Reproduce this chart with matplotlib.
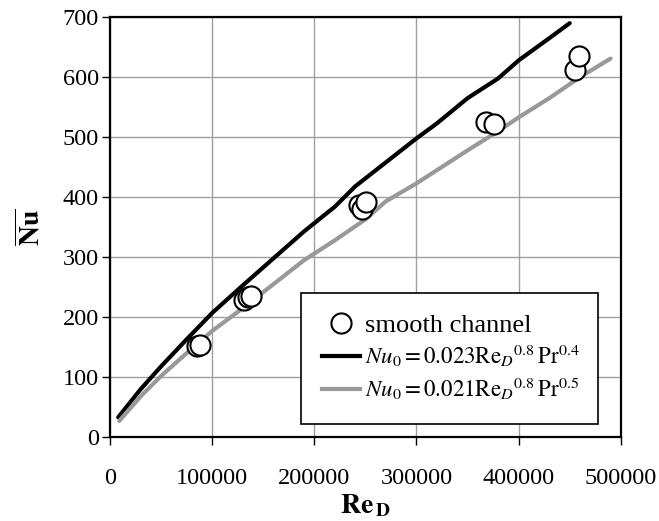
import numpy as np
import matplotlib
matplotlib.use("Agg")
import matplotlib.pyplot as plt
from matplotlib.lines import Line2D

plt.rcParams['font.family'] = ['Liberation Serif', 'DejaVu Serif']
plt.rcParams['mathtext.fontset'] = 'stix'

# Messdaten: glatter Kanal
re_smooth = [84700, 88000, 131000, 135000, 138000, 244000, 247000, 251000,
             368000, 376000, 455000, 459000]
nu_smooth = [152, 153, 229, 234, 236, 387, 380, 392, 525, 522, 612, 636]

# Korrelation Nu0 = 0.023 Re^0.8 Pr^0.4
re_db = [8000, 30000, 50000, 75000, 100000, 130000, 160000, 190000, 220000,
         240000, 270000, 300000, 320000, 350000, 380000, 400000, 430000, 450000]
nu_db = [33, 80, 118, 163, 207, 253, 298, 343, 384, 418, 458, 498,
         523, 565, 598, 628, 665, 690]

# Korrelation Nu0 = 0.021 Re^0.8 Pr^0.5
re_2 = [9000, 30000, 50000, 75000, 100000, 130000, 160000, 190000, 220000,
        250000, 270000, 300000, 350000, 380000, 400000, 430000, 460000, 490000]
nu_2 = [27, 68, 102, 140, 177, 215, 255, 295, 328, 363, 393, 423,
        478, 510, 533, 565, 600, 631]

fig = plt.figure(figsize=(6.59, 5.21), dpi=100)
ax = fig.add_axes([0.167, 0.161, 0.775, 0.806])

ax.plot(re_db, nu_db, color='black', lw=3, zorder=3, solid_capstyle='round')
ax.plot(re_2, nu_2, color='#999999', lw=3, zorder=3, solid_capstyle='round')
ax.plot(re_smooth, nu_smooth, 'o', ms=14.5, mfc='white', mec='black', mew=1.5,
        zorder=4, ls='none')

ax.set_xlim(0, 500000)
ax.set_ylim(0, 700)
ax.set_xticks(np.arange(0, 500001, 100000))
ax.set_yticks(np.arange(0, 701, 100))
ax.grid(True, color='#a0a0a0', lw=1)
ax.set_axisbelow(True)
for s in ax.spines.values():
    s.set_linewidth(1.6)
ax.tick_params(axis='x', direction='out', length=6, width=1, pad=16, labelsize=17.5)
ax.tick_params(axis='y', direction='out', length=6, width=1, pad=2, labelsize=17.5)

ax.set_xlabel(r'$\mathbf{Re}_{\,\mathbf{D}}$', fontsize=20, labelpad=3)
ax.set_ylabel(r'$\overline{\mathbf{Nu}}$', fontsize=20, labelpad=12)

handles = [
    Line2D([], [], marker='o', ls='none', ms=14.5, mfc='white', mec='black', mew=1.5),
    Line2D([], [], color='black', lw=3),
    Line2D([], [], color='#999999', lw=3),
]
labels = [
    'smooth channel',
    r'$Nu_0 = 0.023\mathrm{Re}_D{}^{0.8}\,\mathrm{Pr}^{0.4}$',
    r'$Nu_0 = 0.021\mathrm{Re}_D{}^{0.8}\,\mathrm{Pr}^{0.5}$',
]
leg = ax.legend(handles, labels, loc='upper left',
                bbox_to_anchor=(0.374, 0.343, 0.581, 0.0), mode='expand',
                fancybox=False, edgecolor='black', framealpha=1,
                fontsize=18, handlelength=1.5, handletextpad=0.2,
                borderpad=0.85, labelspacing=0.25, borderaxespad=0)
txts = leg.get_texts()
txts[0].set_fontsize(19)
txts[1].set_fontsize(16.5)
txts[2].set_fontsize(16.5)
leg.get_frame().set_linewidth(1.2)
leg.set_zorder(5)

plt.savefig('out.png', dpi=100)
